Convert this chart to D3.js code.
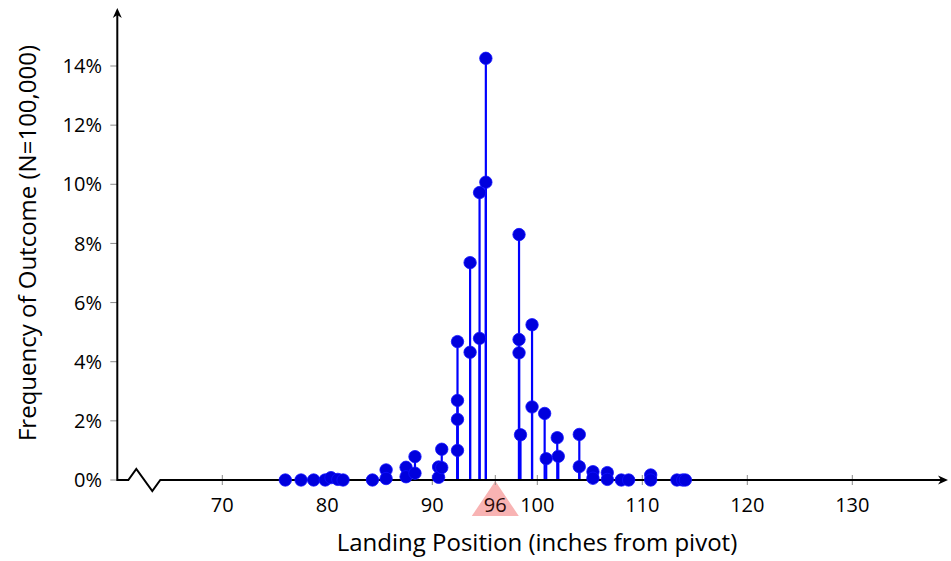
<!DOCTYPE html>
<html><head><meta charset="utf-8">
<script src="https://cdn.jsdelivr.net/npm/d3@7"></script>
<style>
html,body{margin:0;padding:0;background:#fff;}
svg text{font-family:"Open Sans","Noto Sans",sans-serif;}
</style></head>
<body>
<svg id="chart" width="951" height="561"></svg>
<script>
// Landing positions (inches from pivot) and frequency of each outcome (%)
const positions = [76.0, 77.5, 78.7, 79.8, 80.35, 81.0, 81.5, 84.3,
  85.6, 85.6, 87.5, 87.5, 88.35, 88.35, 90.6, 90.6, 90.9, 90.9,
  92.4, 92.4, 92.4, 92.4, 93.6, 93.6, 94.5, 94.5, 95.1, 95.1,
  98.26, 98.26, 98.26, 98.4, 99.5, 99.5, 100.7, 100.85, 101.9, 102.0,
  104.0, 104.0, 105.3, 105.3, 106.67, 106.67, 108.0, 108.7, 110.8, 110.8,
  113.3, 113.85, 114.1];
const frequencies = [0, 0, 0, 0, 0.08, 0.02, 0, 0,
  0.34, 0.05, 0.43, 0.11, 0.79, 0.23, 0.44, 0.09, 1.04, 0.42,
  4.68, 2.69, 2.05, 1.0, 7.35, 4.32, 9.72, 4.79, 14.26, 10.07,
  8.3, 4.75, 4.3, 1.53, 5.25, 2.47, 2.25, 0.72, 1.43, 0.8,
  1.54, 0.45, 0.28, 0.06, 0.25, 0.02, 0, 0, 0.17, 0,
  0, 0, 0];
const xTicks = [70, 80, 90, 100, 110, 120, 130];
const yTicks = [0, 2, 4, 6, 8, 10, 12, 14];
const pivotMark = 96;
const xTitle = "Landing Position (inches from pivot)";
const yTitle = "Frequency of Outcome (N=100,000)";

const points = positions.map((p, i) => ({x: p, y: frequencies[i]}));

const svg = d3.select("#chart");
const x = d3.scaleLinear().domain([60, 140]).range([117.3, 957.3]);
const y = d3.scaleLinear().domain([0, 14]).range([480, 66]);
const y0 = y(0), xLeft = x(60), xRight = 948, yTop = 8;

// pivot triangle
svg.append("path")
  .attr("d", `M${x(pivotMark)},${y0+1} L${x(pivotMark)-23.5},${y0+36} L${x(pivotMark)+23.5},${y0+36} Z`)
  .attr("fill", "#f8b3b3");

// x ticks (gray, crossing axis)
const allX = xTicks.concat([pivotMark]);
svg.append("g").selectAll("line").data(allX).join("line")
  .attr("x1", d => x(d)).attr("x2", d => x(d))
  .attr("y1", y0 - 5).attr("y2", y0 + 5)
  .attr("stroke", "#8a8a8a").attr("stroke-width", 1);

// y ticks
svg.append("g").selectAll("line").data(yTicks).join("line")
  .attr("x1", xLeft - 7).attr("x2", xLeft)
  .attr("y1", d => y(d)).attr("y2", d => y(d))
  .attr("stroke", "#8a8a8a").attr("stroke-width", 1);

// stems
svg.append("g").selectAll("line").data(points).join("line")
  .attr("x1", d => x(d.x)).attr("x2", d => x(d.x))
  .attr("y1", y0).attr("y2", d => y(d.y))
  .attr("stroke", "#0000ff").attr("stroke-width", 2.2);

// axes (black) with break
const ax = svg.append("g").attr("fill", "none").attr("stroke", "#000").attr("stroke-width", 2);
ax.append("path").attr("d", `M${xLeft},${yTop+4} L${xLeft},${y0} L${xLeft+11},${y0} L${xLeft+19},${y0-11} L${xLeft+35},${y0+11} L${xLeft+43},${y0} L${xRight-4},${y0}`);
svg.append("path").attr("d", `M${xLeft},${yTop} L${xLeft-4.5},${yTop+10} L${xLeft},${yTop+7} L${xLeft+4.5},${yTop+10} Z`).attr("fill", "#000");
svg.append("path").attr("d", `M${xRight},${y0} L${xRight-10},${y0-4.5} L${xRight-7},${y0} L${xRight-10},${y0+4.5} Z`).attr("fill", "#000");

// points
svg.append("g").selectAll("circle").data(points).join("circle")
  .attr("cx", d => x(d.x)).attr("cy", d => y(d.y)).attr("r", 6.2)
  .attr("fill", "#0000dd").attr("stroke", "#1010ff").attr("stroke-width", 0.8);

// x tick labels
svg.append("g").selectAll("text").data(xTicks).join("text")
  .attr("x", d => x(d)).attr("y", 512)
  .attr("text-anchor", "middle").attr("font-size", 20).attr("fill", "#000")
  .text(d => d);
svg.append("text").attr("x", x(pivotMark)).attr("y", 512)
  .attr("text-anchor", "middle").attr("font-size", 20).attr("fill", "#2a0a0a")
  .text(pivotMark);

// y tick labels
svg.append("g").selectAll("text").data(yTicks).join("text")
  .attr("x", 102).attr("y", d => y(d)).attr("dy", "0.36em")
  .attr("text-anchor", "end").attr("font-size", 20).attr("fill", "#000")
  .text(d => d + "%");

// titles
svg.append("text").attr("x", 537).attr("y", 551)
  .attr("text-anchor", "middle").attr("font-size", 24).attr("fill", "#000")
  .text(xTitle);
svg.append("text").attr("transform", "translate(36,243) rotate(-90)")
  .attr("text-anchor", "middle").attr("font-size", 24).attr("fill", "#000")
  .text(yTitle);
</script>
</body></html>
